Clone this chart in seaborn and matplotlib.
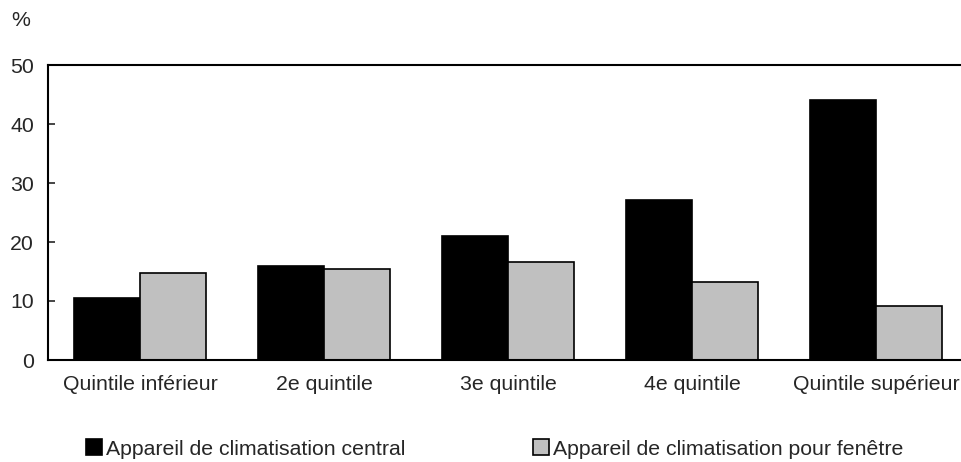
import matplotlib
matplotlib.use("Agg")
import matplotlib.pyplot as plt
import seaborn as sns
import pandas as pd

categories = ["Quintile inférieur", "2e quintile", "3e quintile", "4e quintile", "Quintile supérieur"]
series_names = ["Appareil de climatisation central", "Appareil de climatisation pour fenêtre"]
central = [10.5, 15.9, 21.0, 27.1, 44.0]
fenetre = [14.8, 15.5, 16.6, 13.2, 9.1]
colors = ["#000000", "#C0C0C0"]
yticks = [0, 10, 20, 30, 40, 50]

df = pd.DataFrame({
    "cat": categories * 2,
    "serie": [series_names[0]] * 5 + [series_names[1]] * 5,
    "val": central + fenetre,
})

sns.set_theme(style="white")
plt.rcParams["font.family"] = ["Liberation Sans", "DejaVu Sans"]
FS = 15.3

fig = plt.figure(figsize=(9.62, 4.62), dpi=100)
ax = fig.add_axes([48/962, 102/462, 920/962, 295/462])
sns.barplot(data=df, x="cat", y="val", hue="serie", order=categories,
            hue_order=series_names, palette=colors, width=0.72,
            edgecolor="black", linewidth=1.2, saturation=1, ax=ax, legend=False)

ax.set_xlim(-0.5, 4.5)
ax.set_ylim(0, 50)
ax.set_yticks(yticks)
ax.set_xlabel("")
ax.set_ylabel("")
ax.tick_params(axis="y", direction="in", length=5, width=1.2, labelsize=FS, pad=10, left=True)
ax.tick_params(axis="x", length=0, labelsize=FS, pad=11)
for s in ["left", "bottom", "top", "right"]:
    ax.spines[s].set_color("black")
    ax.spines[s].set_linewidth(1.5)

fig.text(11/962, 1 - 20/462, "%", fontsize=FS, ha="left", va="center")

from matplotlib.patches import Patch
handles = [Patch(facecolor=c, edgecolor="black", linewidth=1.2) for c in colors]
fig.legend(handles, series_names, loc="center", bbox_to_anchor=(495/962, 1 - 449/462),
           ncol=2, frameon=False, fontsize=FS, handlelength=0.75, handleheight=0.75,
           handletextpad=0.2, columnspacing=6.0, borderaxespad=0)

fig.savefig("out.png", dpi=100)
